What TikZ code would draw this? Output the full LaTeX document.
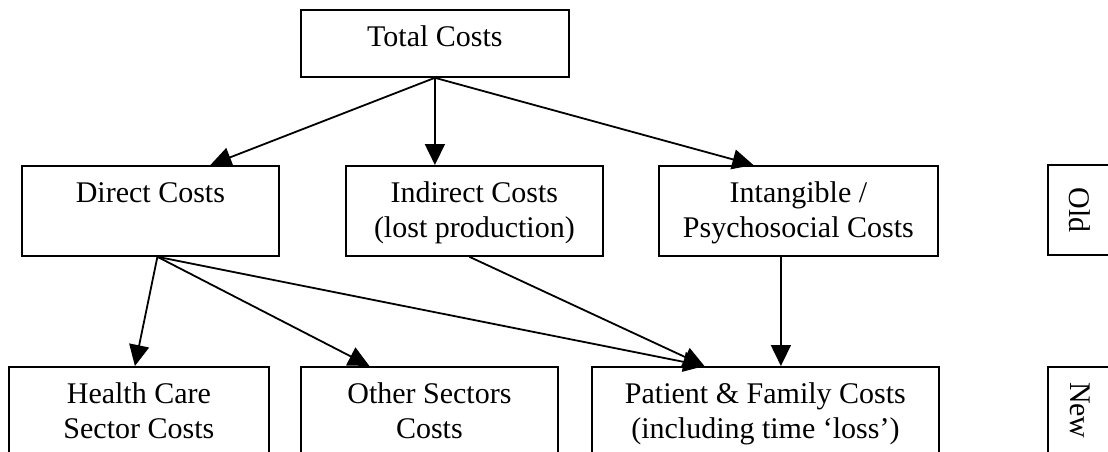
\documentclass[tikz,border=0pt]{standalone}
\usepackage{fontspec}
\setmainfont{Liberation Serif}
\usetikzlibrary{arrows.meta}

% box text: width, height, lines (first line set low like a text box)
\newcommand{\boxlines}[3]{\parbox[c][#2][t]{#1}{\centering\rule{0pt}{37pt}#3}}

\begin{document}
\begin{tikzpicture}[x=1pt,y=-1pt,line width=1.8pt,
  costbox/.style={draw,inner sep=0pt,anchor=north west,font=\fontsize{30}{35}\selectfont},
  sidebox/.style={draw,rotate=-90,minimum height=64pt,font=\fontsize{30}{35}\selectfont},
  arr/.style={-{Triangle[length=21pt,width=20pt]}}]
\useasboundingbox (0,0) rectangle (1108,452);

% top level
\node[costbox] (total) at (300,9) {\boxlines{268pt}{67pt}{Total Costs}};

% middle level
\node[costbox] (direct) at (21,165) {\boxlines{257pt}{90pt}{Direct Costs}};
\node[costbox] (indirect) at (345,165) {\boxlines{257pt}{90pt}{Indirect Costs\\(lost production)}};
\node[costbox] (intang) at (658,165) {\boxlines{279pt}{90pt}{Intangible /\\Psychosocial Costs}};
\node[sidebox,minimum width=90pt] (old) at (1080,210) {Old};

% bottom level
\node[costbox] (health) at (8,366) {\boxlines{260pt}{110pt}{Health Care\\Sector Costs}};
\node[costbox] (other) at (300,366) {\boxlines{257pt}{110pt}{Other Sectors\\Costs}};
\node[costbox] (patient) at (591,366) {\boxlines{347pt}{110pt}{Patient \& Family Costs\\(including time `loss')}};
\node[sidebox,text width=96pt,align=left,inner xsep=15pt] (new) at (1080,430) {New};

% arrows
\draw[arr] (total.south) -- ([xshift=60pt]direct.north);
\draw[arr] (total.south) -- (total.south |- indirect.north);
\draw[arr] (total.south) -- ([xshift=-45pt]intang.north);
\draw[arr] ([xshift=7pt]direct.south) -- ([xshift=-4pt]health.north);
\draw[arr] ([xshift=7pt]direct.south) -- ([xshift=-60pt]other.north);
\draw[arr] ([xshift=7pt]direct.south) -- ([xshift=-61pt]patient.north);
\draw[arr] ([xshift=-5pt]indirect.south) -- ([xshift=-61pt]patient.north);
\draw[arr] ([xshift=-17.5pt]intang.south) -- ([xshift=-17.5pt]intang.south |- patient.north);

\end{tikzpicture}
\end{document}
